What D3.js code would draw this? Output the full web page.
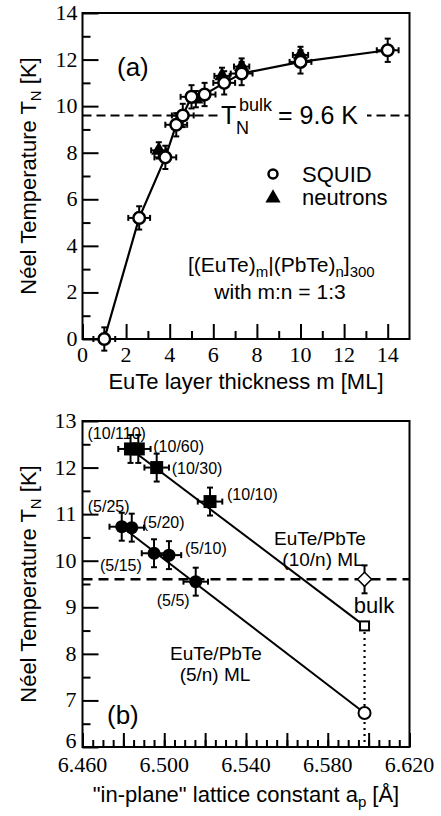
<!DOCTYPE html>
<html><head><meta charset="utf-8">
<script src="https://cdn.jsdelivr.net/npm/d3@7"></script>
<style>body{margin:0;background:#fff}</style>
</head><body>
<svg id="fig" width="441" height="816"></svg>
<script>
// ---- Panel (a): Néel temperature vs EuTe layer thickness ----
const squidM   = [1.0, 2.6, 3.8, 4.3, 4.6, 5.0, 5.6, 6.5, 7.3, 10.0, 14.0];
const squidTN  = [0.0, 5.2, 7.8, 9.2, 9.6, 10.4, 10.5, 11.0, 11.4, 11.9, 12.4];
const neutronM  = [3.5, 5.2, 6.4, 7.3, 10.0];
const neutronTN = [8.1, 10.3, 11.3, 11.7, 12.2];
const bulkTN = 9.6;
const xTicksA = [0, 2, 4, 6, 8, 10, 12, 14];
const yTicksA = [0, 2, 4, 6, 8, 10, 12, 14];

// ---- Panel (b): Néel temperature vs in-plane lattice constant ----
const labels10 = ["(10/110)", "(10/60)", "(10/30)", "(10/10)"];
const ap10 = [6.4835, 6.4873, 6.4963, 6.5224];
const tn10 = [12.4, 12.4, 12.0, 11.27];
const labels5 = ["(5/25)", "(5/20)", "(5/15)", "(5/10)", "(5/5)"];
const ap5 = [6.4792, 6.4841, 6.4950, 6.5023, 6.5154];
const tn5 = [10.73, 10.71, 10.16, 10.12, 9.55];
const apBulk = 6.598;
const tnStrained10 = 8.6;
const tnStrained5 = 6.73;
const xTicksB = [6.46, 6.50, 6.54, 6.58, 6.62];
const yTicksB = [6, 7, 8, 9, 10, 11, 12, 13];

const svg = d3.select("#fig");
const SANS = "'Liberation Sans', Arial, Helvetica, sans-serif";
const SERIF = "'Liberation Serif', 'Times New Roman', serif";

const L = 82.5, R = 409.5;
const A = {top: 13, bottom: 339};
const B = {top: 421, bottom: 747};

const xa = d3.scaleLinear().domain([0, 15]).range([L, R]);
const ya = d3.scaleLinear().domain([0, 14]).range([A.bottom, A.top]);
const xb = d3.scaleLinear().domain([6.46, 6.62]).range([L, R]);
const yb = d3.scaleLinear().domain([6, 13]).range([B.bottom, B.top]);

function frame(p) {
  svg.append("rect").attr("x", L).attr("y", p.top)
    .attr("width", R - L).attr("height", p.bottom - p.top)
    .attr("fill", "none").attr("stroke", "#000").attr("stroke-width", 2);
}

// inward ticks drawn with d3 axes, labels added separately
function ticks(g, axis) { g.call(axis); g.select(".domain").remove();
  g.selectAll("line").attr("stroke", "#000").attr("stroke-width", 2);
  g.selectAll("text").remove(); }

function axesA() {
  frame(A);
  const gx = svg.append("g").attr("transform", `translate(0,${A.bottom})`);
  ticks(gx.append("g"), d3.axisBottom(xa).tickValues(d3.range(0, 15, 2)).tickSize(-15));
  ticks(gx.append("g"), d3.axisBottom(xa).tickValues(d3.range(1, 15, 2)).tickSize(-8));
  const gy = svg.append("g").attr("transform", `translate(${L},0)`);
  ticks(gy.append("g"), d3.axisLeft(ya).tickValues(d3.range(0, 15, 2)).tickSize(-16));
  ticks(gy.append("g"), d3.axisLeft(ya).tickValues(d3.range(1, 14, 2)).tickSize(-8));
  svg.append("g").selectAll("text").data(xTicksA).join("text")
    .attr("x", d => xa(d)).attr("y", A.bottom + 23).attr("text-anchor", "middle")
    .attr("font-family", SERIF).attr("font-size", 22).text(d => d);
  svg.append("g").selectAll("text").data(yTicksA).join("text")
    .attr("x", L - 5).attr("y", d => ya(d) + 7).attr("text-anchor", "end")
    .attr("font-family", SERIF).attr("font-size", 22).text(d => d);
}

function axesB() {
  frame(B);
  const gx = svg.append("g").attr("transform", `translate(0,${B.bottom})`);
  const minor = d3.range(0, 33).map(i => 6.46 + i * 0.005);
  const major = d3.range(0, 9).map(i => 6.46 + i * 0.02);
  ticks(gx.append("g"), d3.axisBottom(xb).tickValues(minor).tickSize(-7));
  ticks(gx.append("g"), d3.axisBottom(xb).tickValues(major).tickSize(-14));
  const gy = svg.append("g").attr("transform", `translate(${L},0)`);
  ticks(gy.append("g"), d3.axisLeft(yb).tickValues(d3.range(6, 13.01, 1)).tickSize(-16));
  ticks(gy.append("g"), d3.axisLeft(yb).tickValues(d3.range(6.5, 13, 1)).tickSize(-8));
  svg.append("g").selectAll("text").data(xTicksB).join("text")
    .attr("x", d => xb(d)).attr("y", B.bottom + 25).attr("text-anchor", "middle")
    .attr("font-family", SERIF).attr("font-size", 22).text(d => d.toFixed(3));
  svg.append("g").selectAll("text").data(yTicksB).join("text")
    .attr("x", L - 6).attr("y", d => yb(d) + (d === 6 ? 1 : 7)).attr("text-anchor", "end")
    .attr("font-family", SERIF).attr("font-size", 22).text(d => d);
}

function yTitle(cy) {
  const t = svg.append("text").attr("transform", `translate(36,${cy}) rotate(-90)`)
    .attr("text-anchor", "middle").attr("font-family", SANS).attr("font-size", 22);
  t.append("tspan").text("Néel Temperature T");
  t.append("tspan").attr("font-size", 15).attr("dy", 5).text("N");
  t.append("tspan").attr("dy", -5).text(" [K]");
}

function errorBars(g, pts, x, y, ex, ey, cap) {
  const s = g.append("g").attr("stroke", "#000").attr("stroke-width", 2);
  pts.forEach(p => {
    const cx = x(p.x), cy = y(p.y);
    const x0 = x(p.x - ex), x1 = x(p.x + ex), y0 = y(p.y - ey), y1 = y(p.y + ey);
    s.append("line").attr("x1", x0).attr("x2", x1).attr("y1", cy).attr("y2", cy);
    s.append("line").attr("x1", cx).attr("x2", cx).attr("y1", y0).attr("y2", y1);
    [x0, x1].forEach(v => s.append("line").attr("x1", v).attr("x2", v).attr("y1", cy - cap).attr("y2", cy + cap));
    [y0, y1].forEach(v => s.append("line").attr("y1", v).attr("y2", v).attr("x1", cx - cap).attr("x2", cx + cap));
  });
}

// ================= Panel (a) =================
axesA();
const squid = squidM.map((m, i) => ({x: m, y: squidTN[i]}));
const neutrons = neutronM.map((m, i) => ({x: m, y: neutronTN[i]}));

svg.append("line").attr("x1", L).attr("x2", R)
  .attr("y1", ya(bulkTN)).attr("y2", ya(bulkTN))
  .attr("stroke", "#000").attr("stroke-width", 2).attr("stroke-dasharray", "9,5");
svg.append("rect").attr("x", 219).attr("y", ya(bulkTN) - 20).attr("width", 148).attr("height", 40).attr("fill", "#fff");

svg.append("path").datum(squid)
  .attr("d", d3.line().x(d => xa(d.x)).y(d => ya(d.y)))
  .attr("fill", "none").attr("stroke", "#000").attr("stroke-width", 2.2);

const gA = svg.append("g");
errorBars(gA, neutrons, xa, ya, 0.35, 0.35, 3);
errorBars(gA, squid, xa, ya, 0.5, 0.5, 3);
gA.append("g").selectAll("path").data(neutrons).join("path")
  .attr("transform", d => `translate(${xa(d.x)},${ya(d.y)})`)
  .attr("d", d3.symbol(d3.symbolTriangle, 100)).attr("fill", "#000");
gA.append("g").selectAll("circle").data(squid).join("circle")
  .attr("cx", d => xa(d.x)).attr("cy", d => ya(d.y)).attr("r", 5.8)
  .attr("fill", "#fff").attr("stroke", "#000").attr("stroke-width", 2.5);

svg.append("text").attr("x", 117).attr("y", 76).attr("font-family", SANS).attr("font-size", 26).text("(a)");
// T_N^bulk = 9.6 K
svg.append("text").attr("x", 221).attr("y", 124).attr("font-family", SANS).attr("font-size", 25).text("T");
svg.append("text").attr("x", 239).attr("y", 111).attr("font-family", SANS).attr("font-size", 18).text("bulk");
svg.append("text").attr("x", 236).attr("y", 134).attr("font-family", SANS).attr("font-size", 18).text("N");
svg.append("text").attr("x", 278).attr("y", 124).attr("font-family", SANS).attr("font-size", 25).text("= 9.6 K");

// legend
svg.append("circle").attr("cx", 273).attr("cy", 174).attr("r", 4.5)
  .attr("fill", "#fff").attr("stroke", "#000").attr("stroke-width", 2.5);
svg.append("text").attr("x", 302).attr("y", 182).attr("font-family", SANS).attr("font-size", 22).text("SQUID");
svg.append("path").attr("transform", "translate(273,198)")
  .attr("d", d3.symbol(d3.symbolTriangle, 100)).attr("fill", "#000");
svg.append("text").attr("x", 302).attr("y", 205).attr("font-family", SANS).attr("font-size", 22).text("neutrons");

// sample formula
const f = svg.append("text").attr("x", 188).attr("y", 272).attr("font-family", SANS).attr("font-size", 21);
f.append("tspan").text("[(EuTe)");
f.append("tspan").attr("font-size", 15).attr("dy", 5).text("m");
f.append("tspan").attr("dy", -5).text("|(PbTe)");
f.append("tspan").attr("font-size", 15).attr("dy", 5).text("n");
f.append("tspan").attr("dy", -5).text("]");
f.append("tspan").attr("font-size", 15).attr("dy", 5).text("300");
svg.append("text").attr("x", 280).attr("y", 299).attr("text-anchor", "middle")
  .attr("font-family", SANS).attr("font-size", 21).text("with m:n = 1:3");

yTitle((A.top + A.bottom) / 2);
svg.append("text").attr("x", 246).attr("y", 389).attr("text-anchor", "middle")
  .attr("font-family", SANS).attr("font-size", 22).text("EuTe layer thickness m [ML]");

// ================= Panel (b) =================
axesB();
const s10 = ap10.map((a, i) => ({x: a, y: tn10[i], label: labels10[i]}));
const s5 = ap5.map((a, i) => ({x: a, y: tn5[i], label: labels5[i]}));

svg.append("line").attr("x1", L).attr("x2", R).attr("y1", yb(bulkTN)).attr("y2", yb(bulkTN))
  .attr("stroke", "#000").attr("stroke-width", 2.5).attr("stroke-dasharray", "10,6");

// dotted vertical at the bulk lattice constant
svg.append("line").attr("x1", xb(apBulk)).attr("x2", xb(apBulk))
  .attr("y1", yb(tnStrained10)).attr("y2", B.bottom)
  .attr("stroke", "#000").attr("stroke-width", 2.2).attr("stroke-dasharray", "2,4");

const lineB = d3.line().x(d => xb(d.x)).y(d => yb(d.y));
svg.append("path").datum([s10[0], {x: apBulk, y: tnStrained10}]).attr("d", lineB)
  .attr("fill", "none").attr("stroke", "#000").attr("stroke-width", 2);
svg.append("path").datum([s5[0], {x: apBulk, y: tnStrained5}]).attr("d", lineB)
  .attr("fill", "none").attr("stroke", "#000").attr("stroke-width", 2);

const gB = svg.append("g");
errorBars(gB, s10, xb, yb, 0.006, 0.3, 3);
errorBars(gB, s5, xb, yb, 0.006, 0.3, 3);
errorBars(gB, [{x: apBulk, y: bulkTN}], xb, yb, 0, 0.3, 3);
gB.append("g").selectAll("rect").data(s10).join("rect")
  .attr("x", d => xb(d.x) - 6.5).attr("y", d => yb(d.y) - 6.5)
  .attr("width", 13).attr("height", 13).attr("fill", "#000");
gB.append("g").selectAll("circle").data(s5).join("circle")
  .attr("cx", d => xb(d.x)).attr("cy", d => yb(d.y)).attr("r", 6.5).attr("fill", "#000");
gB.append("rect").attr("x", xb(apBulk) - 4.5).attr("y", yb(tnStrained10) - 4.5)
  .attr("width", 9).attr("height", 9).attr("fill", "#fff").attr("stroke", "#000").attr("stroke-width", 2);
gB.append("circle").attr("cx", xb(apBulk)).attr("cy", yb(tnStrained5)).attr("r", 6)
  .attr("fill", "#fff").attr("stroke", "#000").attr("stroke-width", 2);
gB.append("path").attr("transform", `translate(${xb(apBulk)},${yb(bulkTN)})`)
  .attr("d", "M0,-7L7,0L0,7L-7,0Z").attr("fill", "#fff").attr("stroke", "#000").attr("stroke-width", 1.5);

// sample labels, offset from their markers
const off10 = [[-43, -10], [15, 3], [15, 6], [17, -2]];
const off5 = [[-34, -15], [11, 0], [-54, 18], [16, -1], [-39, 24]];
svg.append("g").selectAll("text").data(s10).join("text")
  .attr("x", (d, i) => xb(d.x) + off10[i][0]).attr("y", (d, i) => yb(d.y) + off10[i][1])
  .attr("font-family", SANS).attr("font-size", 16).text(d => d.label);
svg.append("g").selectAll("text").data(s5).join("text")
  .attr("x", (d, i) => xb(d.x) + off5[i][0]).attr("y", (d, i) => yb(d.y) + off5[i][1])
  .attr("font-family", SANS).attr("font-size", 16).text(d => d.label);

const anno = [["EuTe/PbTe", 320, 545], ["(10/n) ML", 323, 566], ["EuTe/PbTe", 216, 660], ["(5/n) ML", 215, 681]];
svg.append("g").selectAll("text").data(anno).join("text")
  .attr("x", d => d[1]).attr("y", d => d[2]).attr("text-anchor", "middle")
  .attr("font-family", SANS).attr("font-size", 19).text(d => d[0]);
svg.append("text").attr("x", 374).attr("y", 613).attr("text-anchor", "middle")
  .attr("font-family", SANS).attr("font-size", 22).text("bulk");
svg.append("text").attr("x", 107).attr("y", 724).attr("font-family", SANS).attr("font-size", 26).text("(b)");

yTitle((B.top + B.bottom) / 2);
const xt = svg.append("text").attr("x", 246).attr("y", 802).attr("text-anchor", "middle")
  .attr("font-family", SANS).attr("font-size", 22);
xt.append("tspan").text("\"in-plane\" lattice constant a");
xt.append("tspan").attr("font-size", 15).attr("dy", 5).text("p");
xt.append("tspan").attr("dy", -5).text(" [Å]");
</script>
</body></html>
